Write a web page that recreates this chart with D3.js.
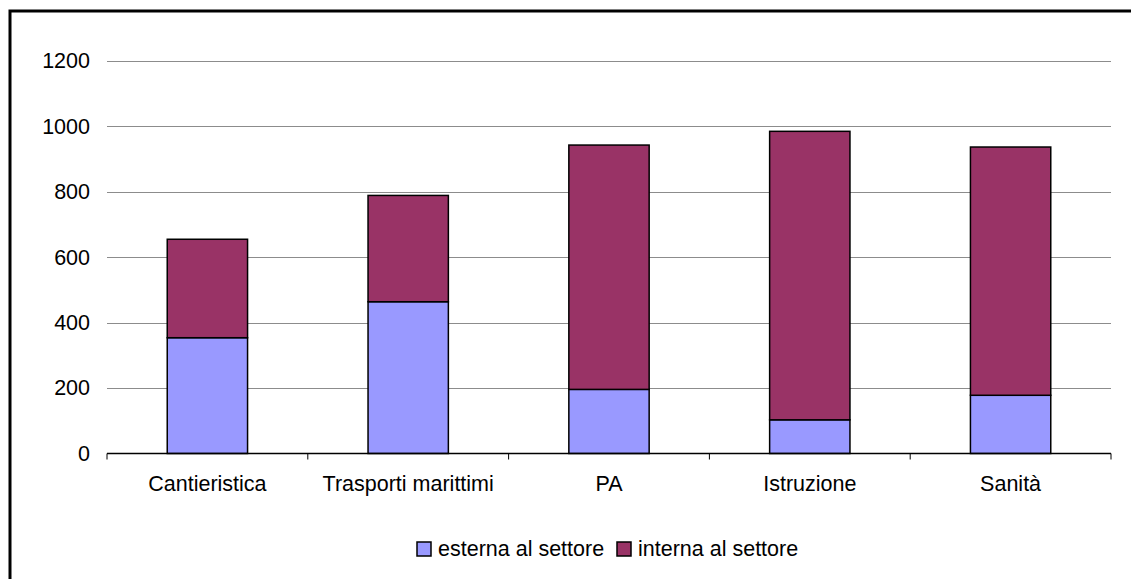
<!DOCTYPE html>
<html>
<head>
<meta charset="utf-8">
<script src="https://cdn.jsdelivr.net/npm/d3@7"></script>
<style>
  body { margin: 0; background: #fff; }
  text { font-family: "Liberation Sans", Arial, sans-serif; fill: #000; }
</style>
</head>
<body>
<script>
const categories = ['Cantieristica', 'Trasporti marittimi', 'PA', 'Istruzione', 'Sanità'];
const esterna = [354, 464, 196, 103, 178];
const interna = [301, 325, 747, 882, 759];
const seriesNames = ['esterna al settore', 'interna al settore'];
const yTicks = [0, 200, 400, 600, 800, 1000, 1200];

const colors = ['#9999ff', '#993366'];
const fontSize = '21.5px';

const width = 1131, height = 579;
const plot = { left: 107, right: 1111, top: 61, bottom: 453.5 };

const svg = d3.select('body').append('svg')
  .attr('width', width).attr('height', height);

// outer frame, cut off at right and bottom like the original
svg.append('rect')
  .attr('x', 10).attr('y', 11)
  .attr('width', width + 20).attr('height', height)
  .attr('fill', 'none')
  .attr('stroke', '#000')
  .attr('stroke-width', 3);

const x = d3.scaleBand()
  .domain(categories)
  .range([plot.left, plot.right])
  .paddingInner(0.6)
  .paddingOuter(0.3);

const y = d3.scaleLinear()
  .domain([0, 1200])
  .range([plot.bottom, plot.top]);

// gridlines
svg.append('g')
  .selectAll('line')
  .data(yTicks.filter(d => d > 0))
  .join('line')
    .attr('x1', plot.left).attr('x2', plot.right)
    .attr('y1', d => Math.round(y(d)) + 0.5)
    .attr('y2', d => Math.round(y(d)) + 0.5)
    .attr('stroke', '#8c8c8c')
    .attr('stroke-width', 1);

// y labels
const yAxis = svg.append('g')
  .attr('transform', `translate(${plot.left},0)`)
  .call(d3.axisLeft(y).tickValues(yTicks).tickFormat(d3.format('d')).tickSize(0).tickPadding(17));
yAxis.select('.domain').remove();
yAxis.selectAll('text')
  .style('font-family', '"Liberation Sans", Arial, sans-serif')
  .style('font-size', fontSize)
  .attr('fill', '#000');

// stacked bars
const rows = categories.map((c, i) => ({ cat: c, esterna: esterna[i], interna: interna[i] }));
const stack = d3.stack().keys(['esterna', 'interna'])(rows);

svg.append('g')
  .selectAll('g')
  .data(stack)
  .join('g')
    .attr('fill', (d, i) => colors[i])
  .selectAll('rect')
  .data(d => d)
  .join('rect')
    .attr('x', d => x(d.data.cat))
    .attr('y', d => y(d[1]))
    .attr('width', x.bandwidth())
    .attr('height', d => y(d[0]) - y(d[1]))
    .attr('stroke', '#000')
    .attr('stroke-width', 1.5);

// x axis line with ticks at category boundaries
const boundaries = d3.range(categories.length + 1).map(i => plot.left + i * x.step());
const xAxis = svg.append('g');
xAxis.append('line')
  .attr('x1', plot.left).attr('x2', plot.right)
  .attr('y1', plot.bottom).attr('y2', plot.bottom)
  .attr('stroke', '#000').attr('stroke-width', 1.5);
xAxis.selectAll('line.tick')
  .data(boundaries)
  .join('line')
    .attr('class', 'tick')
    .attr('x1', d => d).attr('x2', d => d)
    .attr('y1', plot.bottom).attr('y2', plot.bottom + 6)
    .attr('stroke', '#000').attr('stroke-width', 1);
xAxis.selectAll('text')
  .data(categories)
  .join('text')
    .attr('x', d => x(d) + x.bandwidth() / 2)
    .attr('y', 491)
    .attr('text-anchor', 'middle')
    .style('font-size', fontSize)
    .text(d => d);

// legend
const legendItems = [
  { name: seriesNames[0], color: colors[0], x: 417 },
  { name: seriesNames[1], color: colors[1], x: 617 }
];
const legend = svg.append('g');
legendItems.forEach(item => {
  legend.append('rect')
    .attr('x', item.x).attr('y', 542)
    .attr('width', 14).attr('height', 14)
    .attr('fill', item.color)
    .attr('stroke', '#000').attr('stroke-width', 1.5);
  legend.append('text')
    .attr('x', item.x + 21).attr('y', 556)
    .style('font-size', fontSize)
    .text(item.name);
});
</script>
</body>
</html>
